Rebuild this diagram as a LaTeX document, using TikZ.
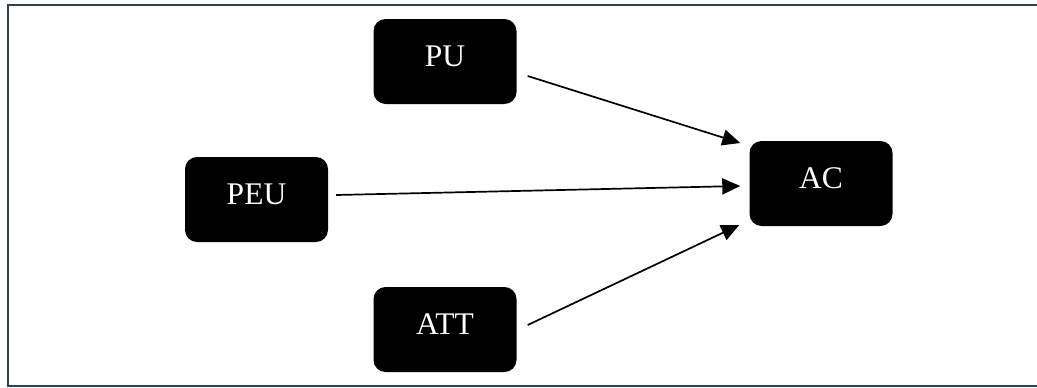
\documentclass[tikz,border=0pt]{standalone}
\usepackage{fontspec}
\setmainfont{Liberation Serif}
\usetikzlibrary{arrows.meta}
\definecolor{framecol}{HTML}{2E4351}
\begin{document}
\begin{tikzpicture}[x=1pt,y=-1pt,
  box/.style={fill=black, text=white, rounded corners=12pt, minimum width=143pt,
    minimum height=85pt, inner sep=0pt, text height=21pt, text depth=11pt,
    font=\fontsize{31.5}{36}\selectfont},
  conn/.style={line width=1.7pt, -{Triangle[length=18pt,width=16pt]}},
  frameline/.style={draw=framecol, line width=2.2pt}]
\useasboundingbox (0,0) rectangle (1037,388);
\coordinate (f1) at (1040,5);
\coordinate (f2) at (8,5);
\coordinate (f3) at (8,386);
\coordinate (f4) at (1040,386);
\draw[frameline] (f1) -- (f2) -- (f3) -- (f4);
\node[box] (PU) at (445,61.5) {PU};
\node[box] (PEU) at (256.5,199.5) {PEU};
\node[box] (AC) at (821,183.5) {AC};
\node[box] (ATT) at (445,329.5) {ATT};
\draw[conn] ([xshift=11pt,yshift=-14.5pt]PU.east) -- ([xshift=-9pt,yshift=40.5pt]AC.west);
\draw[conn] ([xshift=8pt,yshift=4.5pt]PEU.east) -- ([xshift=-9pt,yshift=-2.5pt]AC.west);
\draw[conn] ([xshift=11pt,yshift=4.5pt]ATT.east) -- ([xshift=-10pt,yshift=-41.5pt]AC.west);
\end{tikzpicture}
\end{document}
